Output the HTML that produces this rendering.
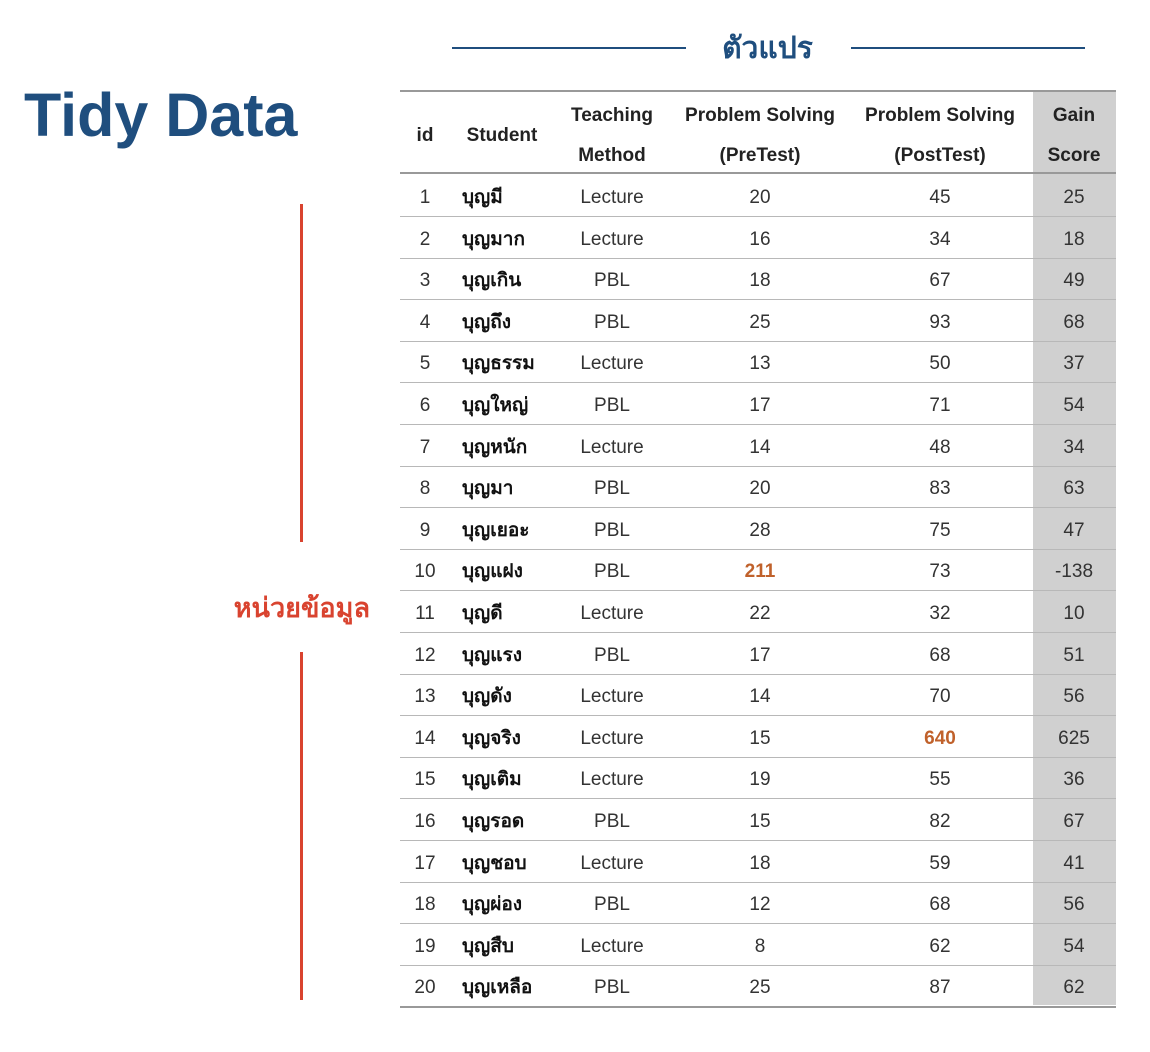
<!DOCTYPE html>
<html><head><meta charset="utf-8">
<style>
body{margin:0;width:1150px;height:1052px;background:#fff;position:relative;overflow:hidden;font-family:"Liberation Sans","Noto Sans CJK SC",sans-serif;}
.abs{position:absolute;}
#title{left:24px;top:80px;font-size:61px;font-weight:bold;color:#1f4e7e;letter-spacing:0px;white-space:nowrap;}
#var-label{left:690px;top:25px;width:155px;text-align:center;font-size:30px;font-weight:bold;color:#1f4e7e;font-family:"Liberation Sans","Noto Sans CJK SC","WenQuanYi Zen Hei",sans-serif;}
.hline{height:2px;background:#1f4e7e;}
.vline{width:3px;background:#d9432f;}
#unit-label{left:220px;top:586px;width:150px;text-align:right;font-size:27px;font-weight:bold;color:#d9432f;font-family:"Liberation Sans","WenQuanYi Zen Hei","Noto Sans CJK SC",sans-serif;}
#gain-bg{left:1033px;top:91px;width:83px;height:914px;background:#d0d0d0;}
.rule{left:400px;width:716px;height:1px;background:#b0b0b0;}
.cell{position:absolute;font-size:19px;color:#333;text-align:center;white-space:nowrap;line-height:24px;}
.hd{font-weight:bold;color:#222;}
.name{text-align:left;font-weight:bold;color:#111;font-family:"Liberation Sans","WenQuanYi Zen Hei","Noto Sans CJK SC",sans-serif;}
.hi{color:#c0612b;font-weight:bold;}
</style></head><body>
<div id="title" class="abs">Tidy Data</div>
<div class="abs hline" style="left:452px;top:47px;width:234px"></div>
<div id="var-label" class="abs">ตัวแปร</div>
<div class="abs hline" style="left:851px;top:47px;width:234px"></div>
<div class="abs vline" style="left:300px;top:204px;height:338px"></div>
<div id="unit-label" class="abs">หน่วยข้อมูล</div>
<div class="abs vline" style="left:300px;top:652px;height:348px"></div>
<div id="gain-bg" class="abs"></div>
<div id="table"></div>
<script>
const names=["บุญมี","บุญมาก","บุญเกิน","บุญถึง","บุญธรรม","บุญใหญ่","บุญหนัก","บุญมา","บุญเยอะ","บุญแฝง","บุญดี","บุญแรง","บุญดัง","บุญจริง","บุญเติม","บุญรอด","บุญชอบ","บุญผ่อง","บุญสืบ","บุญเหลือ"];
const methods=["Lecture","Lecture","PBL","PBL","Lecture","PBL","Lecture","PBL","PBL","PBL","Lecture","PBL","Lecture","Lecture","Lecture","PBL","Lecture","PBL","Lecture","PBL"];
const pre=[20,16,18,25,13,17,14,20,28,211,22,17,14,15,19,15,18,12,8,25];
const post=[45,34,67,93,50,71,48,83,75,73,32,68,70,640,55,82,59,68,62,87];
const gain=[25,18,49,68,37,54,34,63,47,-138,10,51,56,625,36,67,41,56,54,62];
const t=document.getElementById('table');
function cell(txt,cx,cy,cls,name,w){
  const d=document.createElement('div');
  d.className='cell '+(cls||'');
  d.textContent=txt;
  w=w||160;
  d.style.left=(cls&&cls.indexOf('name')>=0?cx:cx-w/2)+'px';
  d.style.width=w+'px';
  d.style.top=(cy-10)+'px';
  
  
  t.appendChild(d);
}
function rule(y,h,c,name){
  const r=document.createElement('div');
  r.className='abs rule';
  r.style.top=y+'px';r.style.height=h+'px';r.style.background=c;
  
  
  t.appendChild(r);
}
rule(90,2,'#999','table-top-rule');
rule(172,2,'#999','header-bottom-rule');
cell('id',425,134,'hd','header-id',60);
cell('Student',502,134,'hd','header-student',120);
cell('Teaching',612,114,'hd','header-method-1');
cell('Method',612,154,'hd','header-method-2');
cell('Problem Solving',760,114,'hd','header-pretest-1',180);
cell('(PreTest)',760,154,'hd','header-pretest-2',180);
cell('Problem Solving',940,114,'hd','header-posttest-1',180);
cell('(PostTest)',940,154,'hd','header-posttest-2',180);
cell('Gain',1074,114,'hd','header-gain-1',80);
cell('Score',1074,154,'hd','header-gain-2',80);
const rowH=41.6;
for(let i=0;i<names.length;i++){
  const cy=196+i*rowH;
  cell(String(i+1),425,cy,'','row-id',60);
  cell(names[i],462,cy,'name','row-student',140);
  cell(methods[i],612,cy,'','row-method');
  cell(String(pre[i]),760,cy,pre[i]>100?'hi':'','row-pretest');
  cell(String(post[i]),940,cy,post[i]>100?'hi':'','row-posttest');
  cell(String(gain[i]),1074,cy,'','row-gain',80);
  rule(Math.round(cy+20),i==names.length-1?2:1,i==names.length-1?'#999':'#b8b8b8','row-rule');
}
</script>
</body></html>
